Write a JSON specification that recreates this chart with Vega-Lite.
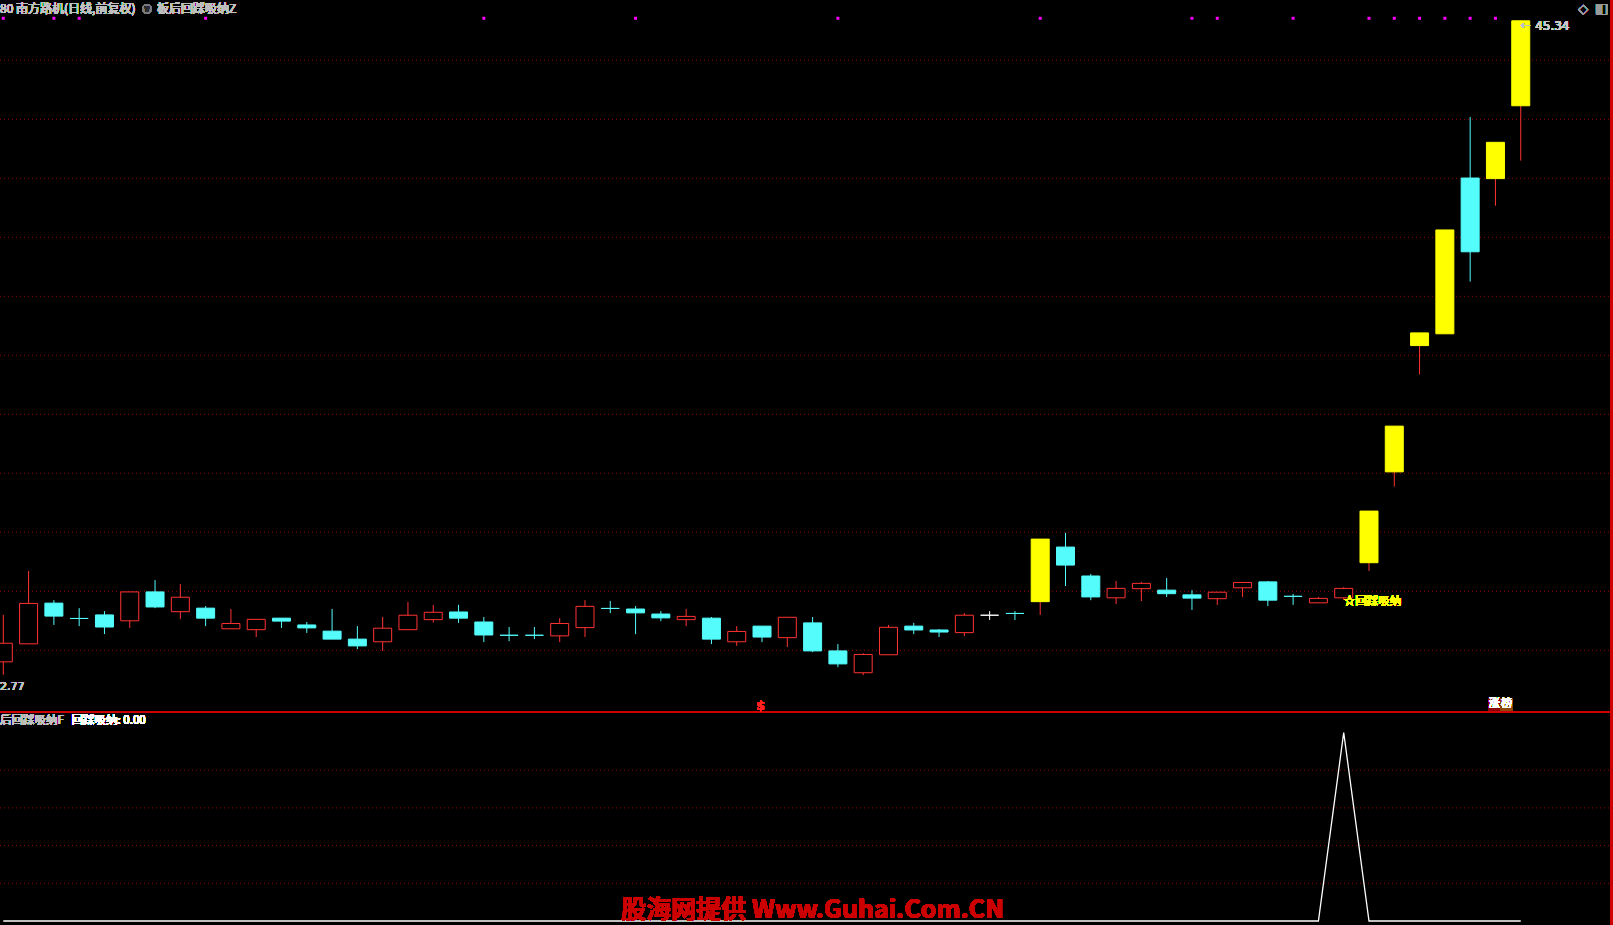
{
  "$schema": "https://vega.github.io/schema/vega-lite/v6.json",
  "width": 1613,
  "height": 925,
  "autosize": {"type": "none"},
  "padding": 0,
  "background": "#000000",
  "config": {"view": {"stroke": null}, "axis": {"disable": true}, "legend": {"disable": true}, "scale": {"continuousPadding": 0}, "text": {"font": "Noto Sans CJK SC"}},
  "data": {"values": [
    {"i":0,"o":23.61,"h":25.20,"l":23.17,"c":24.24,"t":"up","dot":1,"sig":0},
    {"i":1,"o":24.22,"h":26.69,"l":24.22,"c":25.59,"t":"up","dot":0,"sig":0},
    {"i":2,"o":25.60,"h":25.70,"l":24.86,"c":25.16,"t":"down","dot":1,"sig":0},
    {"i":3,"o":25.08,"h":25.43,"l":24.82,"c":25.08,"t":"down","dot":1,"sig":0},
    {"i":4,"o":25.20,"h":25.33,"l":24.55,"c":24.79,"t":"down","dot":0,"sig":0},
    {"i":5,"o":25.00,"h":25.98,"l":24.76,"c":25.98,"t":"up","dot":0,"sig":0},
    {"i":6,"o":25.98,"h":26.38,"l":25.43,"c":25.47,"t":"down","dot":0,"sig":0},
    {"i":7,"o":25.31,"h":26.25,"l":25.06,"c":25.80,"t":"up","dot":0,"sig":0},
    {"i":8,"o":25.43,"h":25.50,"l":24.82,"c":25.09,"t":"down","dot":1,"sig":0},
    {"i":9,"o":24.73,"h":25.40,"l":24.73,"c":24.91,"t":"up","dot":0,"sig":0},
    {"i":10,"o":24.70,"h":25.05,"l":24.45,"c":25.05,"t":"up","dot":0,"sig":0},
    {"i":11,"o":25.09,"h":25.09,"l":24.76,"c":24.99,"t":"down","dot":0,"sig":0},
    {"i":12,"o":24.86,"h":24.96,"l":24.59,"c":24.76,"t":"down","dot":0,"sig":0},
    {"i":13,"o":24.65,"h":25.40,"l":24.38,"c":24.38,"t":"down","dot":0,"sig":0},
    {"i":14,"o":24.38,"h":24.82,"l":24.04,"c":24.15,"t":"down","dot":0,"sig":0},
    {"i":15,"o":24.29,"h":25.13,"l":23.98,"c":24.75,"t":"up","dot":0,"sig":0},
    {"i":16,"o":24.70,"h":25.64,"l":24.70,"c":25.19,"t":"up","dot":0,"sig":0},
    {"i":17,"o":25.04,"h":25.54,"l":24.94,"c":25.29,"t":"up","dot":0,"sig":0},
    {"i":18,"o":25.30,"h":25.54,"l":24.93,"c":25.09,"t":"down","dot":0,"sig":0},
    {"i":19,"o":24.96,"h":25.13,"l":24.28,"c":24.52,"t":"down","dot":1,"sig":0},
    {"i":20,"o":24.51,"h":24.79,"l":24.31,"c":24.51,"t":"down","dot":0,"sig":0},
    {"i":21,"o":24.51,"h":24.79,"l":24.38,"c":24.51,"t":"down","dot":0,"sig":0},
    {"i":22,"o":24.49,"h":25.09,"l":24.28,"c":24.91,"t":"up","dot":0,"sig":0},
    {"i":23,"o":24.77,"h":25.70,"l":24.45,"c":25.49,"t":"up","dot":0,"sig":0},
    {"i":24,"o":25.42,"h":25.67,"l":25.26,"c":25.42,"t":"down","dot":0,"sig":0},
    {"i":25,"o":25.40,"h":25.50,"l":24.55,"c":25.27,"t":"down","dot":1,"sig":0},
    {"i":26,"o":25.23,"h":25.33,"l":24.99,"c":25.10,"t":"down","dot":0,"sig":0},
    {"i":27,"o":25.04,"h":25.40,"l":24.82,"c":25.15,"t":"up","dot":0,"sig":0},
    {"i":28,"o":25.09,"h":25.13,"l":24.21,"c":24.38,"t":"down","dot":0,"sig":0},
    {"i":29,"o":24.29,"h":24.82,"l":24.15,"c":24.64,"t":"up","dot":0,"sig":0},
    {"i":30,"o":24.82,"h":24.82,"l":24.28,"c":24.45,"t":"down","dot":0,"sig":0},
    {"i":31,"o":24.43,"h":25.12,"l":24.11,"c":25.12,"t":"up","dot":0,"sig":0},
    {"i":32,"o":24.93,"h":25.13,"l":23.94,"c":23.98,"t":"down","dot":0,"sig":0},
    {"i":33,"o":23.98,"h":24.21,"l":23.43,"c":23.54,"t":"down","dot":1,"sig":0},
    {"i":34,"o":23.24,"h":23.90,"l":23.16,"c":23.86,"t":"up","dot":0,"sig":0},
    {"i":35,"o":23.85,"h":24.86,"l":23.85,"c":24.78,"t":"up","dot":0,"sig":0},
    {"i":36,"o":24.82,"h":24.93,"l":24.55,"c":24.69,"t":"down","dot":0,"sig":0},
    {"i":37,"o":24.69,"h":24.72,"l":24.45,"c":24.62,"t":"down","dot":0,"sig":0},
    {"i":38,"o":24.60,"h":25.26,"l":24.48,"c":25.19,"t":"up","dot":0,"sig":0},
    {"i":39,"o":25.19,"h":25.33,"l":25.03,"c":25.19,"t":"flat","dot":0,"sig":0},
    {"i":40,"o":25.25,"h":25.33,"l":25.03,"c":25.25,"t":"down","dot":0,"sig":0},
    {"i":41,"o":25.65,"h":27.77,"l":25.20,"c":27.77,"t":"limit","dot":1,"sig":0},
    {"i":42,"o":27.50,"h":27.98,"l":26.18,"c":26.89,"t":"down","dot":0,"sig":0},
    {"i":43,"o":26.52,"h":26.59,"l":25.70,"c":25.81,"t":"down","dot":0,"sig":0},
    {"i":44,"o":25.78,"h":26.35,"l":25.57,"c":26.10,"t":"up","dot":0,"sig":0},
    {"i":45,"o":26.09,"h":26.32,"l":25.67,"c":26.27,"t":"up","dot":0,"sig":0},
    {"i":46,"o":26.04,"h":26.45,"l":25.81,"c":25.92,"t":"down","dot":0,"sig":0},
    {"i":47,"o":25.88,"h":26.04,"l":25.37,"c":25.77,"t":"down","dot":1,"sig":0},
    {"i":48,"o":25.75,"h":25.97,"l":25.54,"c":25.97,"t":"up","dot":1,"sig":0},
    {"i":49,"o":26.12,"h":26.30,"l":25.81,"c":26.30,"t":"up","dot":0,"sig":0},
    {"i":50,"o":26.32,"h":26.35,"l":25.50,"c":25.70,"t":"down","dot":0,"sig":0},
    {"i":51,"o":25.83,"h":25.91,"l":25.54,"c":25.83,"t":"down","dot":1,"sig":0},
    {"i":52,"o":25.61,"h":25.81,"l":25.61,"c":25.76,"t":"up","dot":0,"sig":0},
    {"i":53,"o":25.78,"h":26.14,"l":25.70,"c":26.10,"t":"up","dot":0,"sig":1},
    {"i":54,"o":26.97,"h":28.72,"l":26.69,"c":28.72,"t":"limit","dot":1,"sig":0},
    {"i":55,"o":30.05,"h":31.60,"l":29.55,"c":31.60,"t":"limit","dot":1,"sig":0},
    {"i":56,"o":34.33,"h":34.76,"l":33.35,"c":34.76,"t":"limit","dot":1,"sig":0},
    {"i":57,"o":34.73,"h":38.25,"l":34.73,"c":38.25,"t":"limit","dot":1,"sig":0},
    {"i":58,"o":40.01,"h":42.08,"l":36.50,"c":37.51,"t":"down","dot":1,"sig":0},
    {"i":59,"o":39.99,"h":41.22,"l":39.07,"c":41.22,"t":"limit","dot":1,"sig":0},
    {"i":60,"o":42.46,"h":45.34,"l":40.60,"c":45.34,"t":"limit","dot":0,"sig":0}
  ]},
  "resolve": {"scale": {"y": "independent"}},
  "layer": [
    {
      "layer": [
        {
          "data": {"values": [{"g":24},{"g":26},{"g":28},{"g":30},{"g":32},{"g":34},{"g":36},{"g":38},{"g":40},{"g":42},{"g":44}]},
          "mark": {"type": "rule", "color": "#9a0000", "strokeWidth": 1, "strokeDash": [1, 3]},
          "encoding": {"y": {"field": "g", "type": "quantitative", "scale": {"domain": [14.689, 46.045], "nice": false, "zero": false}}}
        },
        {
          "mark": {"type": "rule", "color": "#d00000", "strokeWidth": 1},
          "encoding": {"y": {"datum": 21.9, "scale": {"domain": [14.689, 46.045], "nice": false, "zero": false}}}
        },
        {
          "mark": {"type": "rule", "color": "#d00000", "strokeWidth": 1.5},
          "encoding": {"x": {"datum": 63.59, "scale": {"domain": [-0.1305, 63.648], "nice": false, "zero": false}}}
        },
        {
          "mark": {"type": "rule", "strokeWidth": 1},
          "encoding": {
            "x": {"field": "i", "type": "quantitative", "scale": {"domain": [-0.1305, 63.648], "nice": false, "zero": false}},
            "y": {"field": "l", "type": "quantitative", "scale": {"domain": [14.689, 46.045], "nice": false, "zero": false}},
            "y2": {"field": "h"},
            "color": {"field": "t", "type": "nominal", "scale": {"domain": ["up", "down", "flat", "limit"], "range": ["#ff3232", "#54fcfc", "#ffffff", "#ff3232"]}}
          }
        },
        {
          "mark": {"type": "bar", "size": 18, "strokeWidth": 1},
          "encoding": {
            "x": {"field": "i", "type": "quantitative", "scale": {"domain": [-0.1305, 63.648], "nice": false, "zero": false}},
            "y": {"field": "o", "type": "quantitative", "scale": {"domain": [14.689, 46.045], "nice": false, "zero": false}},
            "y2": {"field": "c"},
            "fill": {"field": "t", "type": "nominal", "scale": {"domain": ["up", "down", "flat", "limit"], "range": ["#000000", "#54fcfc", "#ffffff", "#ffff00"]}},
            "stroke": {"field": "t", "type": "nominal", "scale": {"domain": ["up", "down", "flat", "limit"], "range": ["#ff3232", "#54fcfc", "#ffffff", "#ffff00"]}}
          }
        },
        {
          "transform": [{"filter": "datum.dot == 1"}],
          "mark": {"type": "point", "shape": "square", "size": 9, "filled": true, "color": "#ff00ff", "opacity": 1},
          "encoding": {
            "x": {"field": "i", "type": "quantitative", "scale": {"domain": [-0.1305, 63.648], "nice": false, "zero": false}},
            "y": {"datum": 45.425, "scale": {"domain": [14.689, 46.045], "nice": false, "zero": false}}
          }
        },
        {
          "mark": {"type": "text", "text": "80 南方路机(日线,前复权)", "align": "left", "baseline": "middle", "fontSize": 12, "color": "#c0c0c0"},
          "encoding": {
            "x": {"datum": -0.1305, "scale": {"domain": [-0.1305, 63.648], "nice": false, "zero": false}},
            "y": {"datum": 45.74, "scale": {"domain": [14.689, 46.045], "nice": false, "zero": false}}
          }
        },
        {
          "mark": {"type": "point", "shape": "circle", "size": 95, "filled": true, "color": "#7a7a7a", "opacity": 1},
          "encoding": {
            "x": {"datum": 5.682, "scale": {"domain": [-0.1305, 63.648], "nice": false, "zero": false}},
            "y": {"datum": 45.74, "scale": {"domain": [14.689, 46.045], "nice": false, "zero": false}}
          }
        },
        {
          "mark": {"type": "text", "text": "∨", "align": "center", "baseline": "middle", "fontSize": 9, "fontWeight": "bold", "color": "#2a2a2a", "font": "DejaVu Sans"},
          "encoding": {
            "x": {"datum": 5.682, "scale": {"domain": [-0.1305, 63.648], "nice": false, "zero": false}},
            "y": {"datum": 45.74, "scale": {"domain": [14.689, 46.045], "nice": false, "zero": false}}
          }
        },
        {
          "mark": {"type": "text", "text": "板后回踩吸纳Z", "align": "left", "baseline": "middle", "fontSize": 12, "color": "#c0c0c0"},
          "encoding": {
            "x": {"datum": 6.08, "scale": {"domain": [-0.1305, 63.648], "nice": false, "zero": false}},
            "y": {"datum": 45.74, "scale": {"domain": [14.689, 46.045], "nice": false, "zero": false}}
          }
        },
        {
          "mark": {"type": "text", "text": "◇", "align": "center", "baseline": "middle", "fontSize": 13, "color": "#9a9a9a", "font": "DejaVu Sans"},
          "encoding": {
            "x": {"datum": 62.47, "scale": {"domain": [-0.1305, 63.648], "nice": false, "zero": false}},
            "y": {"datum": 45.73, "scale": {"domain": [14.689, 46.045], "nice": false, "zero": false}}
          }
        },
        {
          "mark": {"type": "text", "text": "◧", "align": "center", "baseline": "middle", "fontSize": 14, "color": "#9a9a9a", "font": "DejaVu Sans"},
          "encoding": {
            "x": {"datum": 63.21, "scale": {"domain": [-0.1305, 63.648], "nice": false, "zero": false}},
            "y": {"datum": 45.73, "scale": {"domain": [14.689, 46.045], "nice": false, "zero": false}}
          }
        },
        {
          "mark": {"type": "text", "text": "←", "align": "left", "baseline": "middle", "fontSize": 12, "color": "#c0c0c0", "font": "DejaVu Sans"},
          "encoding": {
            "x": {"datum": 60.0, "scale": {"domain": [-0.1305, 63.648], "nice": false, "zero": false}},
            "y": {"datum": 45.2, "scale": {"domain": [14.689, 46.045], "nice": false, "zero": false}}
          }
        },
        {
          "mark": {"type": "text", "text": "45.34", "align": "left", "baseline": "middle", "fontSize": 12, "color": "#c8c8c8", "font": "DejaVu Sans"},
          "encoding": {
            "x": {"datum": 60.57, "scale": {"domain": [-0.1305, 63.648], "nice": false, "zero": false}},
            "y": {"datum": 45.17, "scale": {"domain": [14.689, 46.045], "nice": false, "zero": false}}
          }
        },
        {
          "mark": {"type": "text", "text": "2.77", "align": "left", "baseline": "middle", "fontSize": 11, "color": "#c0c0c0", "font": "DejaVu Sans"},
          "encoding": {
            "x": {"datum": -0.1305, "scale": {"domain": [-0.1305, 63.648], "nice": false, "zero": false}},
            "y": {"datum": 22.77, "scale": {"domain": [14.689, 46.045], "nice": false, "zero": false}}
          }
        },
        {
          "mark": {"type": "text", "text": "☆回踩吸纳", "align": "left", "baseline": "middle", "fontSize": 11.5, "color": "#ffff00"},
          "encoding": {
            "x": {"datum": 53.0, "scale": {"domain": [-0.1305, 63.648], "nice": false, "zero": false}},
            "y": {"datum": 25.65, "scale": {"domain": [14.689, 46.045], "nice": false, "zero": false}}
          }
        },
        {
          "mark": {"type": "text", "text": "$", "align": "center", "baseline": "middle", "fontSize": 12, "fontWeight": "bold", "color": "#ff2020", "font": "DejaVu Sans"},
          "encoding": {
            "x": {"datum": 29.95, "scale": {"domain": [-0.1305, 63.648], "nice": false, "zero": false}},
            "y": {"datum": 22.11, "scale": {"domain": [14.689, 46.045], "nice": false, "zero": false}}
          }
        },
        {
          "mark": {"type": "point", "shape": "square", "size": 150, "filled": true, "color": "#8b0000", "opacity": 1},
          "encoding": {
            "x": {"datum": 58.95, "scale": {"domain": [-0.1305, 63.648], "nice": false, "zero": false}},
            "y": {"datum": 22.165, "scale": {"domain": [14.689, 46.045], "nice": false, "zero": false}}
          }
        },
        {
          "mark": {"type": "point", "shape": "square", "size": 150, "filled": true, "color": "#8b4a00", "opacity": 1},
          "encoding": {
            "x": {"datum": 59.44, "scale": {"domain": [-0.1305, 63.648], "nice": false, "zero": false}},
            "y": {"datum": 22.165, "scale": {"domain": [14.689, 46.045], "nice": false, "zero": false}}
          }
        },
        {
          "mark": {"type": "text", "text": "涨", "align": "center", "baseline": "middle", "fontSize": 11, "color": "#ffffff"},
          "encoding": {
            "x": {"datum": 58.95, "scale": {"domain": [-0.1305, 63.648], "nice": false, "zero": false}},
            "y": {"datum": 22.165, "scale": {"domain": [14.689, 46.045], "nice": false, "zero": false}}
          }
        },
        {
          "mark": {"type": "text", "text": "榜", "align": "center", "baseline": "middle", "fontSize": 11, "color": "#ffffff"},
          "encoding": {
            "x": {"datum": 59.44, "scale": {"domain": [-0.1305, 63.648], "nice": false, "zero": false}},
            "y": {"datum": 22.165, "scale": {"domain": [14.689, 46.045], "nice": false, "zero": false}}
          }
        }
      ]
    },
    {
      "layer": [
        {
          "data": {"values": [{"g":0.2},{"g":0.4},{"g":0.6},{"g":0.8}]},
          "mark": {"type": "rule", "color": "#9a0000", "strokeWidth": 1, "strokeDash": [1, 3]},
          "encoding": {"y": {"field": "g", "type": "quantitative", "scale": {"domain": [-0.0212, 4.886], "nice": false, "zero": false}}}
        },
        {
          "mark": {"type": "line", "color": "#ffffff", "strokeWidth": 1.3, "interpolate": "linear"},
          "encoding": {
            "x": {"field": "i", "type": "quantitative", "scale": {"domain": [-0.1305, 63.648], "nice": false, "zero": false}},
            "y": {"field": "sig", "type": "quantitative", "scale": {"domain": [-0.0212, 4.886], "nice": false, "zero": false}}
          }
        },
        {
          "mark": {"type": "text", "text": "后回踩吸纳F", "align": "left", "baseline": "middle", "fontSize": 11.5, "color": "#c0c0c0"},
          "encoding": {
            "x": {"datum": -0.1305, "scale": {"domain": [-0.1305, 63.648], "nice": false, "zero": false}},
            "y": {"datum": 1.061, "scale": {"domain": [-0.0212, 4.886], "nice": false, "zero": false}}
          }
        },
        {
          "mark": {"type": "text", "text": "回踩吸纳: 0.00", "align": "left", "baseline": "middle", "fontSize": 11.5, "color": "#ffffff"},
          "encoding": {
            "x": {"datum": 2.7, "scale": {"domain": [-0.1305, 63.648], "nice": false, "zero": false}},
            "y": {"datum": 1.061, "scale": {"domain": [-0.0212, 4.886], "nice": false, "zero": false}}
          }
        },
        {
          "mark": {"type": "text", "text": "股海网提供 Www.Guhai.Com.CN", "align": "center", "baseline": "middle", "fontSize": 25, "fontWeight": "bold", "color": "#cc0000"},
          "encoding": {
            "x": {"datum": 31.99, "scale": {"domain": [-0.1305, 63.648], "nice": false, "zero": false}},
            "y": {"datum": 0.058, "scale": {"domain": [-0.0212, 4.886], "nice": false, "zero": false}}
          }
        }
      ]
    }
  ]
}
